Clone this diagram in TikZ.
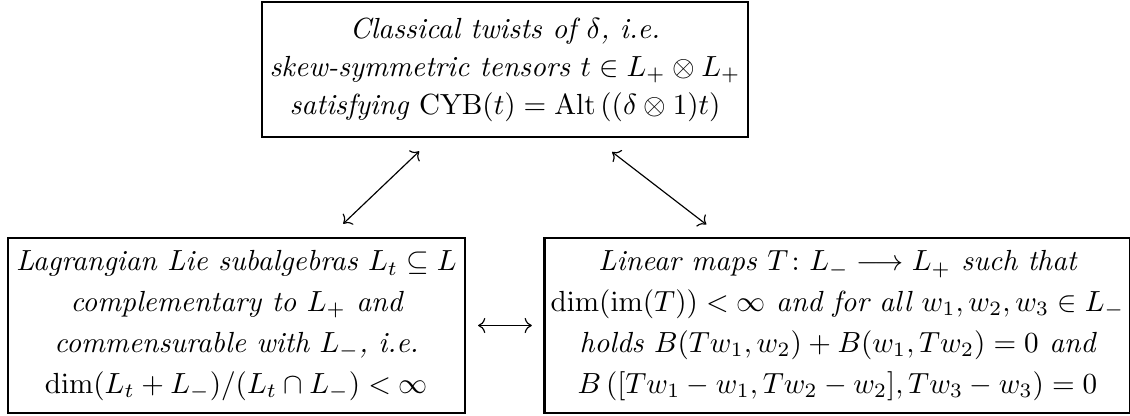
\documentclass[tikz,border=0pt]{standalone}
\usepackage{amsmath}
\usetikzlibrary{arrows.meta}
\tikzset{
  boxnode/.style={draw, line width=1pt, align=center, font=\itshape, inner sep=2pt},
  dualarrow/.style={{Computer Modern Rightarrow}-{Computer Modern Rightarrow}, line width=0.4pt}
}
\begin{document}
\begin{tikzpicture}[x=0.3436pt, y=-0.3436pt]
\useasboundingbox (0,0) rectangle (1130,416);
\node[boxnode, minimum width=167pt, minimum height=46.4pt] (top) at (505,69.5)
  {Classical twists of $\delta$, i.e.\\[1.05pt]
   skew-symmetric tensors $t\in L_+\otimes L_+$\\[1.05pt]
   satisfying $\mathrm{CYB}(t)=\mathrm{Alt}\left((\delta\otimes 1)t\right)$};
\node[boxnode, minimum width=157pt, minimum height=60.1pt] (left) at (236.5,325.5)
  {Lagrangian Lie subalgebras $L_t\subseteq L$\\[2.0pt]
   complementary to $L_+$ and\\[2.0pt]
   commensurable with $L_-$, i.e.\\[2.0pt]
   $\dim(L_t+L_-)/(L_t\cap L_-)<\infty$};
\node[boxnode, minimum width=200.3pt, minimum height=60.1pt] (right) at (837.5,325.5)
  {Linear maps $T\colon L_-\longrightarrow L_+$ such that\\[2.0pt]
   $\dim(\mathrm{im}(T))<\infty$ and for all $w_1,w_2,w_3\in L_-$\\[2.0pt]
   holds $B(Tw_1,w_2)+B(w_1,Tw_2)=0$ and\\[2.0pt]
   $B\left([Tw_1-w_1,Tw_2-w_2],Tw_3-w_3\right)=0$};
\draw[dualarrow, shorten <=6.4pt, shorten >=6.4pt] (top) -- (left);
\draw[dualarrow, shorten <=7.6pt, shorten >=6.8pt] (top) -- (right);
\draw[dualarrow, shorten <=4pt, shorten >=4pt] (left) -- (right);
\end{tikzpicture}
\end{document}
